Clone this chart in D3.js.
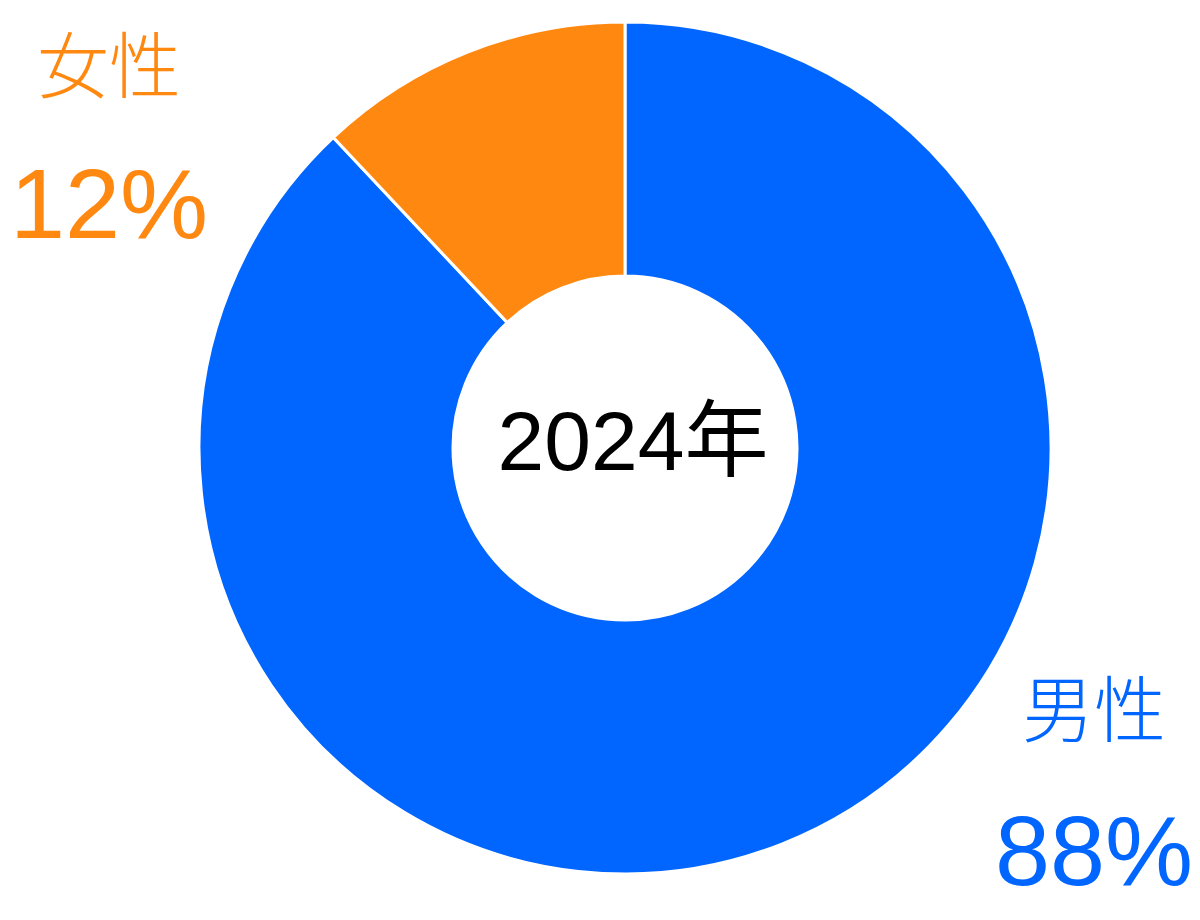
<!DOCTYPE html>
<html>
<head>
<meta charset="utf-8">
<script src="https://cdn.jsdelivr.net/npm/d3@7"></script>
<style>
  html, body { margin: 0; padding: 0; background: #fff; }
  #chart { width: 1200px; height: 920px; }
  text { font-family: "Liberation Sans", Arial, "Noto Sans CJK JP", sans-serif; }
</style>
</head>
<body>
<div id="chart"></div>
<script>
// Gender share donut, 2024.
var categories = ['男性', '女性'];
var shares = [88, 12];
var colors = ['#0066FF', '#FF8811'];
var centerLabel = '2024年';

(function () {
    var W = 1200, H = 920;
    var cx = 625, cy = 448;
    var rOuter = 426, rInner = 172;

    var svg = d3.select('#chart').append('svg')
        .attr('width', W).attr('height', H)
        .attr('viewBox', '0 0 ' + W + ' ' + H);

    var data = categories.map(function (c, i) {
        return { name: c, value: shares[i], color: colors[i] };
    });

    var pie = d3.pie().sort(null).value(function (d) { return d.value; });
    var arc = d3.arc().innerRadius(rInner).outerRadius(rOuter);

    var g = svg.append('g').attr('transform', 'translate(' + cx + ',' + cy + ')');
    g.selectAll('path')
        .data(pie(data))
        .enter().append('path')
        .attr('d', arc)
        .attr('fill', function (d) { return d.data.color; })
        .attr('stroke', '#fff')
        .attr('stroke-width', 3);

    // Centre year label
    g.append('text')
        .attr('x', 8).attr('y', 22)
        .attr('text-anchor', 'middle')
        .attr('font-size', 84)
        .attr('fill', '#000')
        .text(centerLabel);

    // Corner labels: name above, percentage below
    var labelPos = [
        { x: 1094, yName: 736, yPct: 885 },   // 男性, bottom right
        { x: 109, yName: 92, yPct: 238 }      // 女性, top left
    ];
    data.forEach(function (d, i) {
        var p = labelPos[i];
        svg.append('text')
            .attr('x', p.x).attr('y', p.yName)
            .attr('text-anchor', 'middle')
            .attr('font-size', 72)
            .attr('font-weight', 300)
            .attr('fill', d.color)
            .text(d.name);
        svg.append('text')
            .attr('x', p.x).attr('y', p.yPct)
            .attr('text-anchor', 'middle')
            .attr('font-size', 99)
            .attr('fill', d.color)
            .text(d.value + '%');
    });
})();
</script>
</body>
</html>
